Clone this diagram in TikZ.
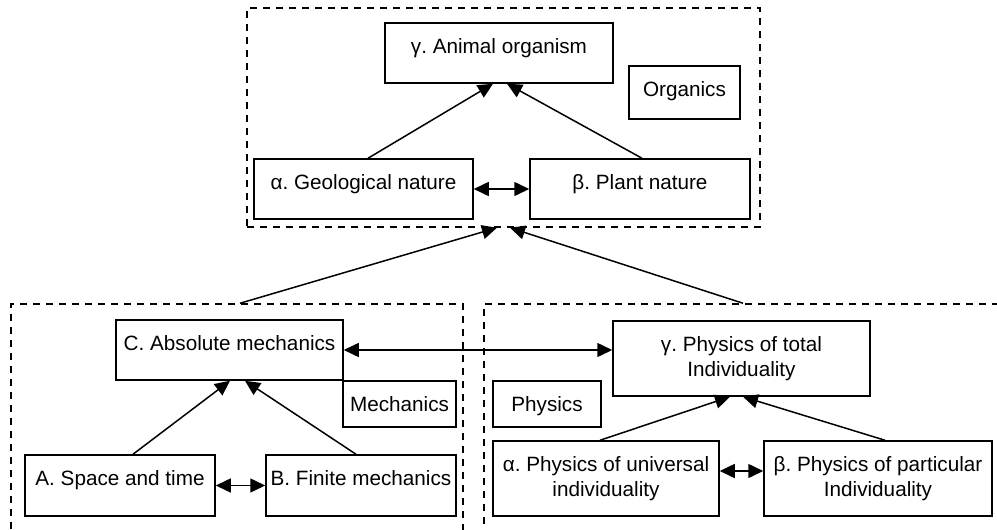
\documentclass[tikz,border=0pt]{standalone}
\usepackage{fontspec}
\setmainfont{Liberation Sans}
\usetikzlibrary{arrows.meta}
\frenchspacing

\begin{document}
\begin{tikzpicture}[x=1pt, y=-1pt,
  every node/.style={font=\fontsize{20.7}{24.5}\selectfont},
  box/.style={draw, line width=1.5pt, inner xsep=0pt, inner ysep=0pt,
              text height=30.5pt, align=center},
  twoline/.style={text height=55pt, text depth=20pt},
  group/.style={draw, line width=1.5pt, dash pattern=on 7pt off 6pt,
                inner sep=0pt},
  tip/.tip={Triangle[length=15pt,width=14pt]},
  link/.style={line width=1.5pt, -tip},
  both/.style={line width=1.5pt, tip-tip}
]
\useasboundingbox (0,0) rectangle (997,530);
\clip (0,0) rectangle (997,530);

% dashed groups
\node[group, minimum width=513pt, minimum height=219pt] (orggrp) at (503.5,117.5) {};
\node[group, minimum width=452pt, minimum height=256pt] (mechgrp) at (237,432) {};
\node[group, minimum width=526pt, minimum height=256pt] (physgrp) at (747,432) {};

% organics
\node[box, minimum width=228pt, text depth=29.5pt] (animal) at (499,53) {γ. Animal organism};
\node[box, minimum width=111pt, text depth=22.5pt] (organics) at (684.5,92.5) {Organics};
\node[box, minimum width=219pt, text depth=29.5pt] (geo) at (363.5,189) {α. Geological nature};
\node[box, minimum width=220pt, text depth=29.5pt] (plant) at (640,189) {β. Plant nature};

% mechanics
\node[box, minimum width=227pt, text depth=29.5pt] (absmech) at (229.5,350) {C. Absolute mechanics};
\node[box, minimum width=113pt, text depth=15.5pt] (mechlabel) at (399.5,404) {Mechanics};
\node[box, minimum width=190pt, text depth=30.5pt] (spacetime) at (120,485.5) {A. Space and time};
\node[box, minimum width=190pt, text depth=30.5pt] (finite) at (361,485.5) {B. Finite mechanics};

% physics
\node[box, twoline, minimum width=257pt] (total) at (741.5,358.5) {γ. Physics of total\\Individuality};
\node[box, minimum width=108pt, text depth=15.5pt] (physlabel) at (547,404) {Physics};
\node[box, twoline, minimum width=226pt] (univ) at (606,478.5) {α. Physics of universal\\individuality};
\node[box, twoline, minimum width=228pt] (partic) at (878,478.5) {β. Physics of particular\\Individuality};

% connectors inside organics
\draw[link] ([xshift=4.5pt]geo.north) -- ([xshift=-6pt]animal.south);
\draw[link] ([xshift=2pt]plant.north) -- ([xshift=8pt]animal.south);
\draw[both] (geo.east) -- (plant.west);

% groups feeding organics
\draw[link] ([xshift=3pt]mechgrp.north) -- ([xshift=-6.5pt]orggrp.south);
\draw[link] ([xshift=-4pt]physgrp.north) -- ([xshift=6.5pt]orggrp.south);

% connectors inside mechanics
\draw[link] ([xshift=13pt]spacetime.north) -- ([xshift=0.5pt]absmech.south);
\draw[link] ([xshift=-5pt]finite.north) -- ([xshift=15.5pt]absmech.south);
\draw[both] (spacetime.east) -- (finite.west);

% connectors inside physics
\draw[link] ([xshift=-6pt]univ.north) -- ([xshift=-11.5pt]total.south);
\draw[link] ([xshift=7pt]partic.north) -- ([xshift=1.5pt]total.south);
\draw[both] ([yshift=7.5pt]univ.east) -- ([yshift=7.5pt]partic.west);

% mechanics <-> physics
\draw[both] (absmech.east) -- ([yshift=8.5pt]total.west);
\end{tikzpicture}
\end{document}
